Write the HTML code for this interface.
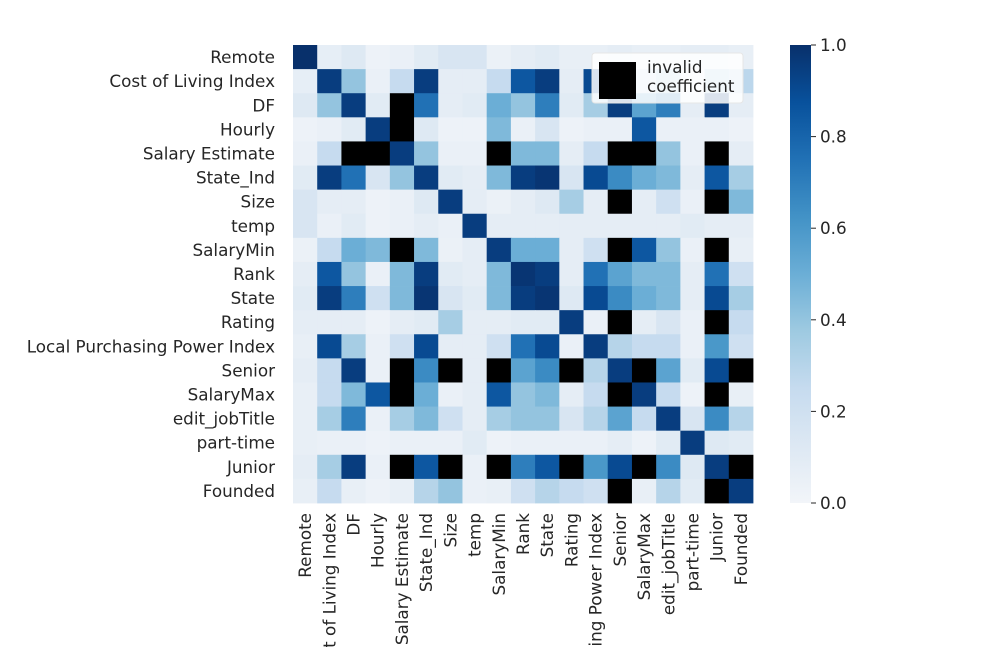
<!DOCTYPE html>
<html><head><meta charset="utf-8">
<style>
html,body{margin:0;padding:0;background:#fff;overflow:hidden;width:981px;height:647px;}
svg{display:block;overflow:hidden;font-family:"DejaVu Sans","Liberation Sans",sans-serif;}
text{fill:#262626;font-size:16.8px;}
</style></head>
<body>
<svg id="chart" width="981" height="647" viewBox="0 0 981 647" xmlns="http://www.w3.org/2000/svg">
<defs><clipPath id="frameclip"><rect x="0" y="0" width="981" height="647"/></clipPath></defs>
<g id="cells"></g>
<g id="ylabels"></g>
<g id="xlabels" clip-path="url(#frameclip)"></g>
<g id="colorbar"></g>
<g>
<rect x="592" y="53" width="151" height="50" rx="3" fill="#fff" fill-opacity="0.85" stroke="#e6e6e6"/>
<rect x="599" y="62" width="37" height="37" fill="#000"/>
<text x="647" y="73">invalid</text>
<text x="647" y="92">coefficient</text>
</g>
</svg>
<script>
const labels = ["Remote","Cost of Living Index","DF","Hourly","Salary Estimate","State_Ind","Size","temp","SalaryMin","Rank","State","Rating","Local Purchasing Power Index","Senior","SalaryMax","edit_jobTitle","part-time","Junior","Founded"];
const N = null;
const row0  = [1,.07,.12,.03,.05,.1,.15,.15,.04,.08,.1,.06,.06,.08,.06,.06,.08,.08,.06];
const row1  = [.07,.95,.4,.05,.25,.95,.08,.08,.25,.85,.95,.08,.9,.25,.25,.35,.05,.35,.28];
const row2  = [.12,.4,.95,.1,N,.75,.08,.1,.5,.4,.7,.1,.35,.95,.55,.7,.08,.95,.08];
const row3  = [.03,.05,.1,.95,N,.12,.03,.03,.45,.05,.15,.03,.05,.05,.85,.05,.05,.05,.03];
const row4  = [.05,.25,N,N,.95,.4,.05,.05,N,.45,.45,.08,.25,N,N,.4,.05,N,.08];
const row5  = [.1,.95,.75,.15,.4,.95,.1,.08,.45,.95,.98,.15,.9,.65,.5,.45,.08,.85,.35];
const row6  = [.15,.08,.08,.03,.05,.12,.95,.08,.04,.08,.12,.35,.08,N,.08,.2,.05,N,.45];
const row7  = [.15,.05,.1,.03,.05,.08,.05,.95,.08,.08,.08,.08,.08,.08,.08,.08,.1,.08,.08];
const row8  = [.04,.25,.5,.45,N,.45,.04,.08,.95,.5,.5,.08,.2,N,.85,.4,.05,N,.06];
const row9  = [.08,.85,.4,.05,.45,.95,.1,.08,.45,.98,.95,.08,.75,.55,.45,.45,.08,.75,.2];
const row10 = [.1,.95,.7,.2,.45,.98,.15,.1,.45,.95,.98,.12,.9,.65,.5,.45,.08,.9,.35];
const row11 = [.08,.08,.08,.03,.08,.1,.35,.08,.08,.1,.1,.95,.05,N,.08,.15,.05,N,.25];
const row12 = [.06,.9,.35,.05,.2,.9,.08,.08,.2,.75,.9,.05,.95,.3,.25,.25,.05,.6,.2];
const row13 = [.08,.25,.95,.05,N,.65,N,.08,N,.55,.65,N,.3,.95,N,.55,.1,.9,N];
const row14 = [.06,.25,.45,.85,N,.5,.05,.08,.85,.4,.45,.08,.25,N,.95,.25,.03,N,.06];
const row15 = [.06,.35,.7,.05,.35,.45,.2,.08,.35,.4,.4,.15,.3,.55,.25,.95,.15,.65,.3];
const row16 = [.06,.05,.05,.03,.05,.05,.05,.1,.03,.05,.05,.05,.05,.08,.03,.1,.95,.12,.1];
const row17 = [.08,.35,.95,.05,N,.85,N,.05,N,.7,.85,N,.6,.9,N,.65,.12,.95,N];
const row18 = [.06,.25,.06,.03,.06,.3,.4,.05,.06,.2,.3,.25,.2,N,.06,.3,.1,N,.95];
const matrix = [row0,row1,row2,row3,row4,row5,row6,row7,row8,row9,row10,row11,row12,row13,row14,row15,row16,row17,row18];
const cbTicks = [0,0.2,0.4,0.6,0.8,1.0];
const cbTickLabels = ["0.0","0.2","0.4","0.6","0.8","1.0"];

const NS = "http://www.w3.org/2000/svg";
const X0 = 293, X1 = 753, Y0 = 45, Y1 = 503;
const n = labels.length;
const cw = (X1 - X0) / n, ch = (Y1 - Y0) / n;
const xPos = i => X0 + i * cw;
const yPos = i => Y0 + i * ch;
const stops = ["#f2f5f9","#dde8f3","#c6dbef","#9ecae1","#6baed6","#4292c6","#2171b5","#08519c","#08306b"];
function hex(c){return [1,3,5].map(i=>parseInt(c.substr(i,2),16));}
function blues(v){
  v = Math.max(0, Math.min(1, v));
  const t = v * (stops.length - 1), i = Math.min(Math.floor(t), stops.length - 2), f = t - i;
  const a = hex(stops[i]), b = hex(stops[i+1]);
  return "rgb(" + a.map((x,k)=>Math.round(x + (b[k]-x)*f)).join(",") + ")";
}
function mk(tag, attrs, parent){
  const el = document.createElementNS(NS, tag);
  for (const k in attrs) el.setAttribute(k, attrs[k]);
  parent.appendChild(el);
  return el;
}
const cells = document.getElementById("cells");
matrix.forEach((row, r) => row.forEach((v, c) => {
  const el = mk("rect", {x: xPos(c), y: yPos(r), width: cw + 0.4, height: ch + 0.4, fill: v === null ? "#000" : blues(v)}, cells);
  
  
}));
const yl = document.getElementById("ylabels");
labels.forEach((l, i) => {
  const t = mk("text", {x: 275, y: yPos(i) + ch/2 + 6, "text-anchor": "end"}, yl);
  t.textContent = l;
  
  
});
const xl = document.getElementById("xlabels");
labels.forEach((l, i) => {
  const cx = xPos(i) + cw/2 + 6, cy = 513;
  const t = mk("text", {x: cx, y: cy, "text-anchor": "end", transform: "rotate(-90 " + cx + " " + cy + ")"}, xl);
  t.textContent = l;
  
  
});
const cb = document.getElementById("colorbar");
const defs = mk("defs", {}, cb);
const grad = mk("linearGradient", {id: "cbg", x1: 0, y1: 1, x2: 0, y2: 0}, defs);
stops.forEach((s, i) => mk("stop", {offset: i/(stops.length-1), "stop-color": s}, grad));
const bar = mk("rect", {x: 790, y: Y0, width: 21, height: Y1 - Y0, fill: "url(#cbg)"}, cb);


const cbY = v => Y1 - v * (Y1 - Y0);
cbTicks.forEach((v, i) => {
  const tk = mk("line", {x1: 811, x2: 816, y1: cbY(v), y2: cbY(v), stroke: "#262626", "stroke-width": 1}, cb);
  
  
  const t = mk("text", {x: 820, y: cbY(v) + 6}, cb);
  t.textContent = cbTickLabels[i];
  
  
});
</script>
</body></html>
